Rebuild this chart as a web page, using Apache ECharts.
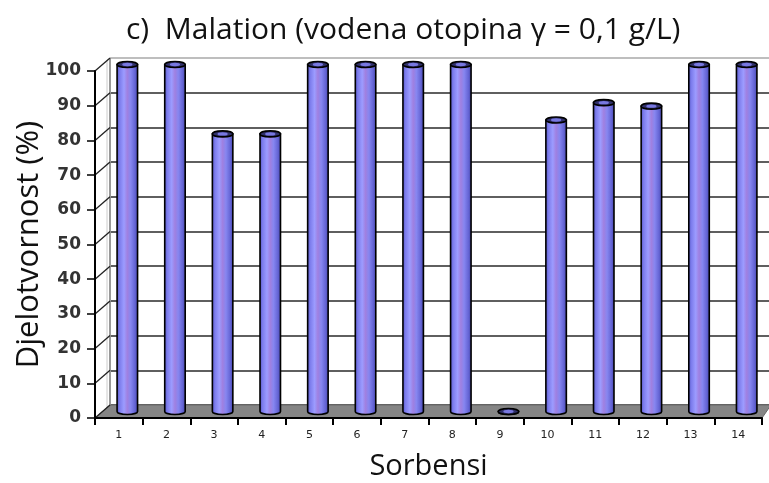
<!DOCTYPE html>
<html>
<head>
<meta charset="utf-8">
<script src="https://cdn.jsdelivr.net/npm/echarts@6/dist/echarts.min.js"></script>
<style>
  html, body { margin: 0; padding: 0; background: #fff; }
  #chart { width: 769px; height: 483px; }
</style>
</head>
<body>
<div id="chart"></div>
<script>
// Sorbent efficiency for malathion (aqueous solution, 0.1 g/L)
const categories = ['1', '2', '3', '4', '5', '6', '7', '8', '9', '10', '11', '12', '13', '14'];
const efficiency = [100, 100, 80, 80, 100, 100, 100, 100, 0, 84, 89, 88, 100, 100];
const yTicks = [0, 10, 20, 30, 40, 50, 60, 70, 80, 90, 100];

const titleText = 'c)  Malation (vodena otopina \u03b3 = 0,1 g/L)';
const xName = 'Sorbensi';
const yName = 'Djelotvornost (%)';

// pseudo-3D depth of the plot box (back wall offset)
const DEPTH_X = 15;
const DEPTH_Y = -13;

const chart = echarts.init(document.getElementById('chart'));

const barGradient = new echarts.graphic.LinearGradient(0, 0, 1, 0, [
  { offset: 0.00, color: '#4e4eb8' },
  { offset: 0.15, color: '#7c7cec' },
  { offset: 0.35, color: '#9c9cff' },
  { offset: 0.50, color: '#a080e0' },
  { offset: 0.65, color: '#8686f0' },
  { offset: 0.85, color: '#6464d4' },
  { offset: 1.00, color: '#4040a0' }
]);

function renderCylinder(params, api) {
  const idx = api.value(0);
  const v = api.value(1);
  const topPt = api.coord([idx, v]);
  const basePt = api.coord([idx, 0]);
  const bw = api.size([1, 0])[0] * 0.43;
  const cx = topPt[0] + DEPTH_X / 2 + 1;
  const yTop = topPt[1] + DEPTH_Y / 2;
  const yBot = basePt[1] + DEPTH_Y / 2;
  const rx = bw / 2, ry = 3;
  const l = cx - rx, r = cx + rx;
  const body = 'M' + l + ',' + yTop + ' L' + l + ',' + yBot +
    ' A' + rx + ',' + ry + ' 0 0 0 ' + r + ',' + yBot +
    ' L' + r + ',' + yTop + ' Z';
  const cap = 'M' + l + ',' + yTop +
    ' A' + rx + ',' + ry + ' 0 1 0 ' + r + ',' + yTop +
    ' A' + rx + ',' + ry + ' 0 1 0 ' + l + ',' + yTop + ' Z';
  const inner = 'M' + (cx - rx * 0.5) + ',' + yTop +
    ' A' + (rx * 0.5) + ',' + (ry * 0.55) + ' 0 1 0 ' + (cx + rx * 0.5) + ',' + yTop +
    ' A' + (rx * 0.5) + ',' + (ry * 0.55) + ' 0 1 0 ' + (cx - rx * 0.5) + ',' + yTop + ' Z';
  return {
    type: 'group',
    children: [
      { type: 'path', shape: { pathData: body },
        style: { fill: barGradient, stroke: '#000', lineWidth: 1.6 } },
      { type: 'path', shape: { pathData: cap },
        style: { fill: '#30306a', stroke: '#000', lineWidth: 1.6 } },
      { type: 'path', shape: { pathData: inner },
        style: { fill: '#7878e0', stroke: null } }
    ]
  };
}

// left side wall: diagonals from the front ticks to the back wall
function renderSideLine(params, api) {
  const cs = params.coordSys;
  const y = api.coord([0, api.value(1)])[1];
  return {
    type: 'line',
    shape: { x1: cs.x, y1: y, x2: cs.x + DEPTH_X, y2: y + DEPTH_Y },
    style: { stroke: '#222', lineWidth: 1.3 }
  };
}

// floor and the back-left edge of the box
function renderFloor(params, api) {
  const cs = params.coordSys;
  const y0 = api.coord([0, 0])[1];
  const yTopBack = api.coord([0, 100])[1] + DEPTH_Y;
  const xr = cs.x + cs.width;
  return {
    type: 'group',
    children: [
      { type: 'line',
        shape: { x1: cs.x + DEPTH_X, y1: y0 + DEPTH_Y, x2: cs.x + DEPTH_X, y2: yTopBack },
        style: { stroke: '#999', lineWidth: 2 } },
      { type: 'line',
        shape: { x1: cs.x + DEPTH_X - 3, y1: y0 + DEPTH_Y + 3, x2: cs.x + DEPTH_X - 3, y2: yTopBack + 3 },
        style: { stroke: '#ccc', lineWidth: 1 } },
      { type: 'polygon',
        shape: { points: [[cs.x, y0], [xr, y0], [xr + DEPTH_X * 0.6, y0 + DEPTH_Y], [cs.x + DEPTH_X, y0 + DEPTH_Y]] },
        style: { fill: '#858585', stroke: '#6a6a6a', lineWidth: 1 } }
    ]
  };
}

const backLineColors = yTicks.map(function (t) {
  return t === 100 ? '#a8a8a8' : '#2a2a2a';
});

chart.setOption({
  animation: false,
  backgroundColor: '#ffffff',
  title: {
    text: titleText,
    left: 121,
    top: 10,
    textStyle: { fontFamily: 'Open Sans', fontSize: 30, fontWeight: 'normal', color: '#111' }
  },
  grid: [
    { left: 95, right: 7, top: 71, bottom: 65, containLabel: false, outerBoundsMode: 'none' },
    { left: 95 + DEPTH_X, right: 0, top: 71 + DEPTH_Y, bottom: 65 - DEPTH_Y, containLabel: false, outerBoundsMode: 'none' }
  ],
  xAxis: [
    {
      gridIndex: 0,
      type: 'category',
      data: categories,
      z: 6,
      axisLine: { lineStyle: { color: '#000', width: 2 } },
      axisTick: { show: true, length: 7, lineStyle: { color: '#000', width: 2 } },
      axisLabel: { fontFamily: 'DejaVu Sans', fontSize: 11, color: '#222', margin: 12 },
      name: xName,
      nameLocation: 'middle',
      nameGap: 34,
      nameMoveOverlap: false,
      nameTextStyle: { fontFamily: 'Open Sans', fontSize: 29, color: '#111' }
    },
    { gridIndex: 1, type: 'value', min: 0, max: 1, show: false }
  ],
  yAxis: [
    {
      gridIndex: 0,
      type: 'value',
      min: 0,
      max: 100,
      interval: 10,
      z: 6,
      axisLine: { show: true, lineStyle: { color: '#000', width: 2 } },
      axisTick: { show: true, length: 8, lineStyle: { color: '#000', width: 1.5 } },
      axisLabel: { fontFamily: 'DejaVu Sans', fontSize: 17, fontWeight: 'bold', color: '#333', margin: 14 },
      splitLine: { show: false },
      name: yName,
      nameLocation: 'middle',
      nameGap: 50,
      nameMoveOverlap: false,
      nameTextStyle: { fontFamily: 'Open Sans', fontSize: 31, color: '#111' }
    },
    {
      gridIndex: 1,
      type: 'value',
      min: 0,
      max: 100,
      interval: 10,
      axisLine: { show: false },
      axisTick: { show: false },
      axisLabel: { show: false },
      splitLine: { show: true, lineStyle: { color: backLineColors, width: 1.6 } }
    }
  ],
  series: [
    {
      type: 'custom',
      xAxisIndex: 0,
      yAxisIndex: 0,
      z: 1,
      silent: true,
      renderItem: renderFloor,
      data: [[0, 0]]
    },
    {
      type: 'custom',
      xAxisIndex: 0,
      yAxisIndex: 0,
      z: 2,
      silent: true,
      renderItem: renderSideLine,
      data: yTicks.map(function (t) { return [0, t]; })
    },
    {
      type: 'custom',
      name: yName,
      xAxisIndex: 0,
      yAxisIndex: 0,
      z: 3,
      renderItem: renderCylinder,
      data: efficiency.map(function (v, i) { return [i, v]; })
    }
  ]
});
</script>
</body>
</html>
